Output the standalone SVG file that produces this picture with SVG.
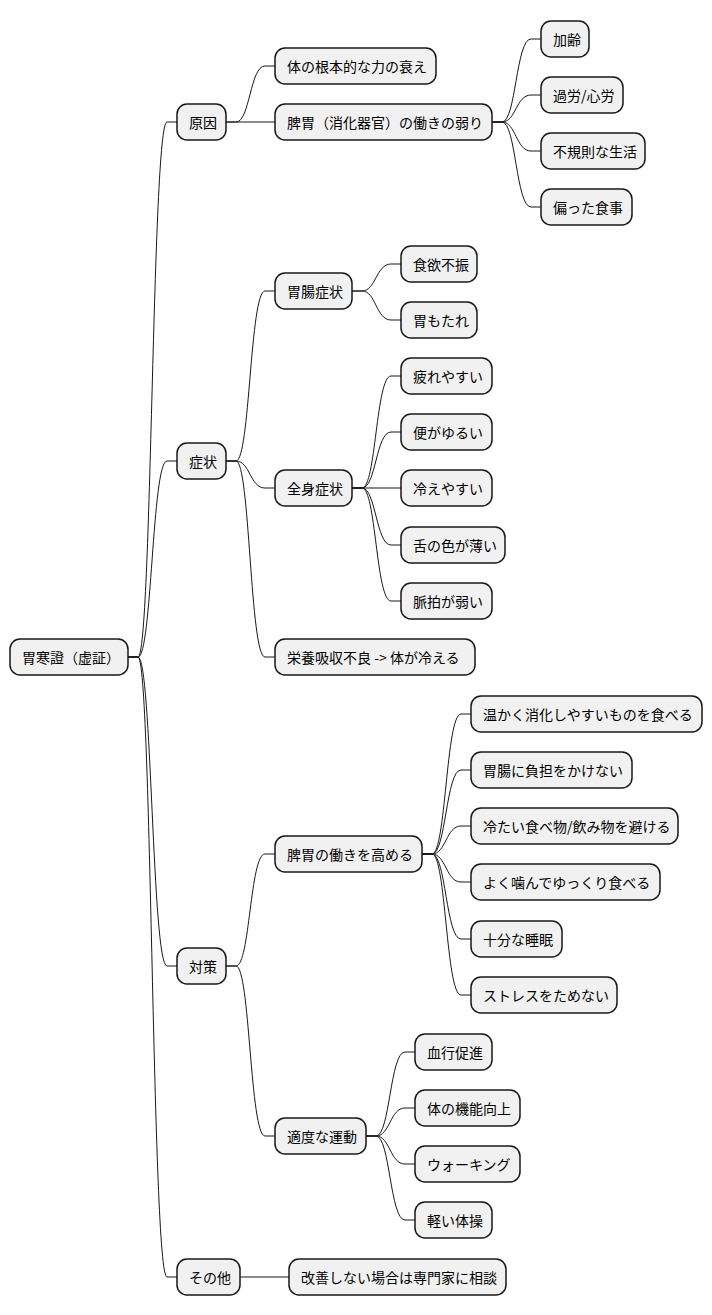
<svg xmlns="http://www.w3.org/2000/svg" width="712" height="1315" viewBox="0 0 712 1315">
<style>
rect{fill:#f1f1f1;stroke:#181818;stroke-width:1.5}
text{font-family:"Noto Sans CJK JP","Noto Sans",sans-serif;font-size:14px;fill:#000;dominant-baseline:central}
#conn path{fill:none;stroke:#181818;stroke-width:1}
</style>
<g id="conn">
<path d="M128,657 L138,657 C152,657 152,122 167,122 L177,122"/>
<path d="M128,657 L138,657 C152,657 152,461 167,461 L177,461"/>
<path d="M128,657 L138,657 C152,657 152,966 167,966 L177,966"/>
<path d="M128,657 L138,657 C152,657 152,1277 167,1277 L177,1277"/>
<path d="M226,122 L236,122 C250,122 250,66 265,66 L275,66"/>
<path d="M226,122 L275,122"/>
<path d="M492,122 L502,122 C516,122 516,39 531,39 L541,39"/>
<path d="M492,122 L502,122 C516,122 516,95 531,95 L541,95"/>
<path d="M492,122 L502,122 C516,122 516,151 531,151 L541,151"/>
<path d="M492,122 L502,122 C516,122 516,207 531,207 L541,207"/>
<path d="M226,461 L236,461 C250,461 250,291 265,291 L275,291"/>
<path d="M226,461 L236,461 C250,461 250,488 265,488 L275,488"/>
<path d="M226,461 L236,461 C250,461 250,657 265,657 L275,657"/>
<path d="M352,291 L362,291 C376,291 376,264 391,264 L401,264"/>
<path d="M352,291 L362,291 C376,291 376,320 391,320 L401,320"/>
<path d="M352,488 L362,488 C376,488 376,376 391,376 L401,376"/>
<path d="M352,488 L362,488 C376,488 376,432 391,432 L401,432"/>
<path d="M352,488 L401,488"/>
<path d="M352,488 L362,488 C376,488 376,545 391,545 L401,545"/>
<path d="M352,488 L362,488 C376,488 376,601 391,601 L401,601"/>
<path d="M226,966 L236,966 C250,966 250,854 265,854 L275,854"/>
<path d="M226,966 L236,966 C250,966 250,1136 265,1136 L275,1136"/>
<path d="M422,854 L432,854 C446,854 446,714 461,714 L471,714"/>
<path d="M422,854 L432,854 C446,854 446,770 461,770 L471,770"/>
<path d="M422,854 L432,854 C446,854 446,826 461,826 L471,826"/>
<path d="M422,854 L432,854 C446,854 446,882 461,882 L471,882"/>
<path d="M422,854 L432,854 C446,854 446,939 461,939 L471,939"/>
<path d="M422,854 L432,854 C446,854 446,995 461,995 L471,995"/>
<path d="M366,1136 L376,1136 C390,1136 390,1052 405,1052 L415,1052"/>
<path d="M366,1136 L376,1136 C390,1136 390,1108 405,1108 L415,1108"/>
<path d="M366,1136 L376,1136 C390,1136 390,1164 405,1164 L415,1164"/>
<path d="M366,1136 L376,1136 C390,1136 390,1220 405,1220 L415,1220"/>
<path d="M240,1277 L289,1277"/>
</g>
<g id="root"><rect x="10" y="639" width="118" height="36" rx="10"/><text x="22" y="657">胃寒證（虚証）</text></g>
<g id="n1"><rect x="177" y="104" width="49" height="36" rx="10"/><text x="189" y="122">原因</text></g>
<g id="n1a"><rect x="275" y="48" width="161" height="36" rx="10"/><text x="287" y="66">体の根本的な力の衰え</text></g>
<g id="n1b"><rect x="275" y="104" width="217" height="36" rx="10"/><text x="287" y="122">脾胃（消化器官）の働きの弱り</text></g>
<g id="n1b1"><rect x="541" y="21" width="48" height="36" rx="10"/><text x="553" y="39">加齢</text></g>
<g id="n1b2"><rect x="541" y="77" width="82" height="36" rx="10"/><text x="553" y="95">過労/心労</text></g>
<g id="n1b3"><rect x="541" y="133" width="104" height="36" rx="10"/><text x="553" y="151">不規則な生活</text></g>
<g id="n1b4"><rect x="541" y="189" width="91" height="36" rx="10"/><text x="553" y="207">偏った食事</text></g>
<g id="n2"><rect x="177" y="443" width="49" height="36" rx="10"/><text x="189" y="461">症状</text></g>
<g id="n2a"><rect x="275" y="273" width="77" height="36" rx="10"/><text x="287" y="291">胃腸症状</text></g>
<g id="n2a1"><rect x="401" y="246" width="76" height="36" rx="10"/><text x="413" y="264">食欲不振</text></g>
<g id="n2a2"><rect x="401" y="302" width="76" height="36" rx="10"/><text x="413" y="320">胃もたれ</text></g>
<g id="n2b"><rect x="275" y="470" width="77" height="36" rx="10"/><text x="287" y="488">全身症状</text></g>
<g id="n2b1"><rect x="401" y="358" width="91" height="36" rx="10"/><text x="413" y="376">疲れやすい</text></g>
<g id="n2b2"><rect x="401" y="414" width="91" height="36" rx="10"/><text x="413" y="432">便がゆるい</text></g>
<g id="n2b3"><rect x="401" y="470" width="91" height="36" rx="10"/><text x="413" y="488">冷えやすい</text></g>
<g id="n2b4"><rect x="401" y="527" width="104" height="36" rx="10"/><text x="413" y="545">舌の色が薄い</text></g>
<g id="n2b5"><rect x="401" y="583" width="91" height="36" rx="10"/><text x="413" y="601">脈拍が弱い</text></g>
<g id="n2c"><rect x="275" y="639" width="200" height="36" rx="10"/><text x="287" y="657">栄養吸収不良 -&gt; 体が冷える</text></g>
<g id="n3"><rect x="177" y="948" width="49" height="36" rx="10"/><text x="189" y="966">対策</text></g>
<g id="n3a"><rect x="275" y="836" width="147" height="36" rx="10"/><text x="287" y="854">脾胃の働きを高める</text></g>
<g id="n3a1"><rect x="471" y="696" width="231" height="36" rx="10"/><text x="483" y="714">温かく消化しやすいものを食べる</text></g>
<g id="n3a2"><rect x="471" y="752" width="161" height="36" rx="10"/><text x="483" y="770">胃腸に負担をかけない</text></g>
<g id="n3a3"><rect x="471" y="808" width="207" height="36" rx="10"/><text x="483" y="826">冷たい食べ物/飲み物を避ける</text></g>
<g id="n3a4"><rect x="471" y="864" width="189" height="36" rx="10"/><text x="483" y="882">よく噛んでゆっくり食べる</text></g>
<g id="n3a5"><rect x="471" y="921" width="91" height="36" rx="10"/><text x="483" y="939">十分な睡眠</text></g>
<g id="n3a6"><rect x="471" y="977" width="146" height="36" rx="10"/><text x="483" y="995">ストレスをためない</text></g>
<g id="n3b"><rect x="275" y="1118" width="91" height="36" rx="10"/><text x="287" y="1136">適度な運動</text></g>
<g id="n3b1"><rect x="415" y="1034" width="77" height="36" rx="10"/><text x="427" y="1052">血行促進</text></g>
<g id="n3b2"><rect x="415" y="1090" width="105" height="36" rx="10"/><text x="427" y="1108">体の機能向上</text></g>
<g id="n3b3"><rect x="415" y="1146" width="105" height="36" rx="10"/><text x="427" y="1164">ウォーキング</text></g>
<g id="n3b4"><rect x="415" y="1202" width="77" height="36" rx="10"/><text x="427" y="1220">軽い体操</text></g>
<g id="n4"><rect x="177" y="1259" width="63" height="36" rx="10"/><text x="189" y="1277">その他</text></g>
<g id="n4a"><rect x="289" y="1259" width="217" height="36" rx="10"/><text x="301" y="1277">改善しない場合は専門家に相談</text></g>
</svg>
